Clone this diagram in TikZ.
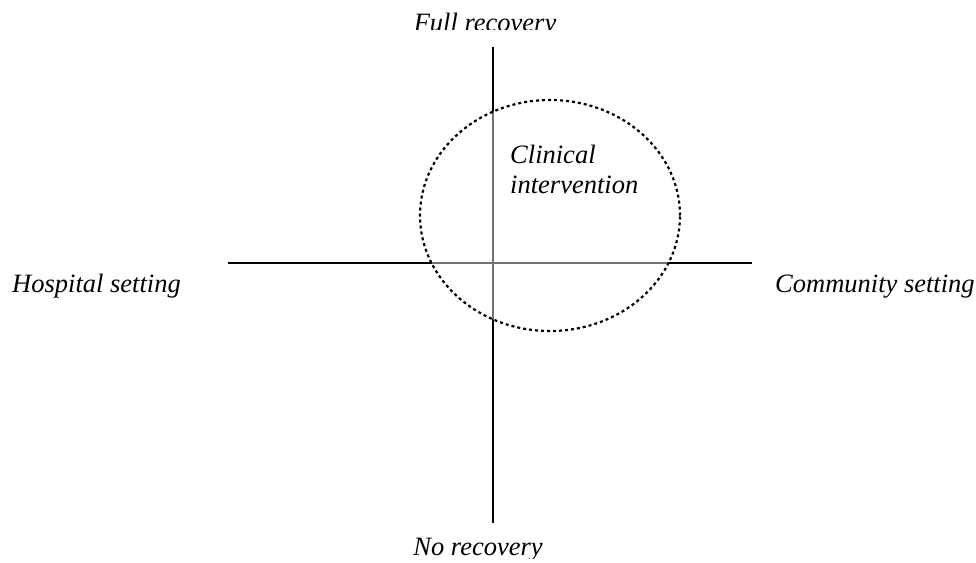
\documentclass[tikz,border=0pt]{standalone}
\usepackage{fontspec}
\setmainfont{Liberation Serif}
\usetikzlibrary{shapes.geometric}
\begin{document}
\begin{tikzpicture}[x=1pt,y=-1pt,
  axis/.style={line width=2pt,black},
  zone/.style={ellipse,draw,inner sep=0pt,minimum width=260pt,minimum height=231pt,line width=2.2pt,dash pattern=on 3pt off 3pt,fill=white,fill opacity=0.45,draw opacity=1},
  label/.style={font=\fontsize{26.5}{30}\selectfont\itshape,inner sep=0pt,anchor=base west,align=left}]
  \useasboundingbox (0,0) rectangle (976,562);
  % axes
  \coordinate (top) at (492.5,47);
  \coordinate (bottom) at (492.5,523);
  \coordinate (left) at (228,263);
  \coordinate (right) at (752,263);
  \draw[axis] (top) -- (bottom);
  \draw[axis] (left) -- (right);
  % clinical intervention zone, washing out the axes beneath it
  \node[zone] (zone) at (550,215.5) {};
  % axis labels, cut off at their text boxes
  \begin{scope}
    \clip (300,0) rectangle (700,29);
    \node[label,anchor=base] (full) at (485,31) {Full recovery};
  \end{scope}
  \begin{scope}
    \clip (300,520) rectangle (700,558);
    \node[label,anchor=base] (none) at (478,555) {No recovery};
  \end{scope}
  \node[label] (hosp) at (12,292) {Hospital setting};
  \node[label] (comm) at (775,292) {Community setting};
  \node[label] (clin) at (510,193) {Clinical\\intervention};
\end{tikzpicture}
\end{document}
